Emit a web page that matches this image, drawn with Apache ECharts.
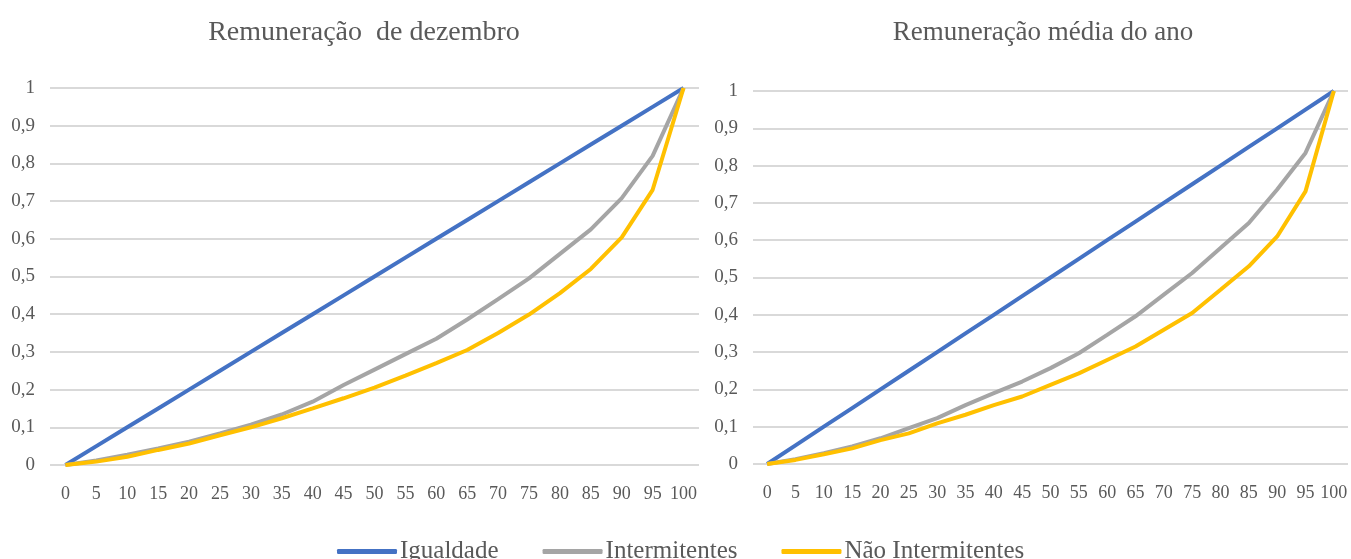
<!DOCTYPE html>
<html>
<head>
<meta charset="utf-8">
<title>Curvas de Lorenz</title>
<script src="https://cdn.jsdelivr.net/npm/echarts@6/dist/echarts.min.js"></script>
<style>
  html, body { margin: 0; padding: 0; background: #fff; }
  #chart { width: 1351px; height: 559px; }
</style>
</head>
<body>
<div id="chart"></div>
<script>
// percentis da população (eixo x)
var percentis = [0,5,10,15,20,25,30,35,40,45,50,55,60,65,70,75,80,85,90,95,100];

// Remuneração de dezembro
var dezIgualdade = [0,0.05,0.1,0.15,0.2,0.25,0.3,0.35,0.4,0.45,0.5,0.55,0.6,0.65,0.7,0.75,0.8,0.85,0.9,0.95,1];
var dezIntermitentes = [0,0.012,0.027,0.044,0.062,0.084,0.107,0.134,0.168,0.212,0.253,0.294,0.335,0.386,0.44,0.495,0.56,0.625,0.708,0.82,1];
var dezNaoIntermitentes = [0,0.009,0.022,0.04,0.057,0.079,0.1,0.124,0.15,0.177,0.205,0.237,0.27,0.305,0.35,0.399,0.456,0.52,0.604,0.73,1];

// Remuneração média do ano
var anoIgualdade = [0,0.05,0.1,0.15,0.2,0.25,0.3,0.35,0.4,0.45,0.5,0.55,0.6,0.65,0.7,0.75,0.8,0.85,0.9,0.95,1];
var anoIntermitentes = [0,0.013,0.029,0.047,0.069,0.096,0.123,0.158,0.19,0.221,0.257,0.297,0.346,0.396,0.454,0.512,0.579,0.646,0.736,0.834,1];
var anoNaoIntermitentes = [0,0.011,0.026,0.042,0.064,0.082,0.109,0.132,0.158,0.181,0.212,0.243,0.279,0.315,0.36,0.405,0.467,0.53,0.61,0.731,1];

var yTicks = [0,0.1,0.2,0.3,0.4,0.5,0.6,0.7,0.8,0.9,1];

var nomes = ['Igualdade', 'Intermitentes', 'Não Intermitentes'];
var cores = ['#4472C4', '#A5A5A5', '#FFC000'];
var fonte = '"Liberation Serif", "Times New Roman", serif';
var cinza = '#595959';

function pares(valores) {
  return percentis.map(function (p, i) { return [p, valores[i]]; });
}

function eixoX(idx) {
  return {
    type: 'value', gridIndex: idx,
    min: -2.5, max: 102.5, interval: 2.5,
    axisLine: { show: false }, axisTick: { show: false },
    splitLine: { show: false },
    axisLabel: {
      color: cinza, fontFamily: fonte, fontSize: 18, margin: 20,
      formatter: function (v) {
        var r = Math.round(v * 10) / 10;
        return (r >= 0 && r <= 100 && r % 5 === 0) ? String(r) : '';
      }
    }
  };
}

function eixoY(idx) {
  return {
    type: 'value', gridIndex: idx,
    min: yTicks[0], max: yTicks[yTicks.length - 1], interval: 0.1,
    axisLine: { show: false }, axisTick: { show: false },
    splitLine: { lineStyle: { color: '#D9D9D9', width: 2 } },
    axisLabel: {
      color: cinza, fontFamily: fonte, fontSize: 19, margin: 15,
      formatter: function (v) {
        return String(Math.round(v * 10) / 10).replace('.', ',');
      }
    }
  };
}

function linha(nome, cor, dados, idx) {
  return {
    name: nome, type: 'line',
    xAxisIndex: idx, yAxisIndex: idx,
    data: pares(dados),
    showSymbol: false, symbol: 'none',
    lineStyle: { color: cor, width: 4 },
    itemStyle: { color: cor },
    animation: false
  };
}

var chart = echarts.init(document.getElementById('chart'));
chart.setOption({
  backgroundColor: '#fff',
  title: [
    {
      text: 'Remuneração  de dezembro', left: 359, top: 14, textAlign: 'center',
      textStyle: { fontFamily: fonte, fontSize: 28, fontWeight: 'normal', color: cinza }
    },
    {
      text: 'Remuneração média do ano', left: 1038, top: 14, textAlign: 'center',
      textStyle: { fontFamily: fonte, fontSize: 27, fontWeight: 'normal', color: cinza }
    }
  ],
  legend: {
    data: nomes,
    left: 332, top: 534,
    icon: 'roundRect', itemWidth: 60, itemHeight: 5, itemGap: 44,
    textStyle: { fontFamily: fonte, fontSize: 25, color: cinza, padding: [0, 0, 0, -2] }
  },
  grid: [
    { left: 50, top: 88, width: 649, height: 377 },
    { left: 753, top: 91, width: 597, height: 373 }
  ],
  xAxis: [eixoX(0), eixoX(1)],
  yAxis: [eixoY(0), eixoY(1)],
  series: [
    linha(nomes[0], cores[0], dezIgualdade, 0),
    linha(nomes[1], cores[1], dezIntermitentes, 0),
    linha(nomes[2], cores[2], dezNaoIntermitentes, 0),
    linha(nomes[0], cores[0], anoIgualdade, 1),
    linha(nomes[1], cores[1], anoIntermitentes, 1),
    linha(nomes[2], cores[2], anoNaoIntermitentes, 1)
  ]
});
</script>
</body>
</html>
